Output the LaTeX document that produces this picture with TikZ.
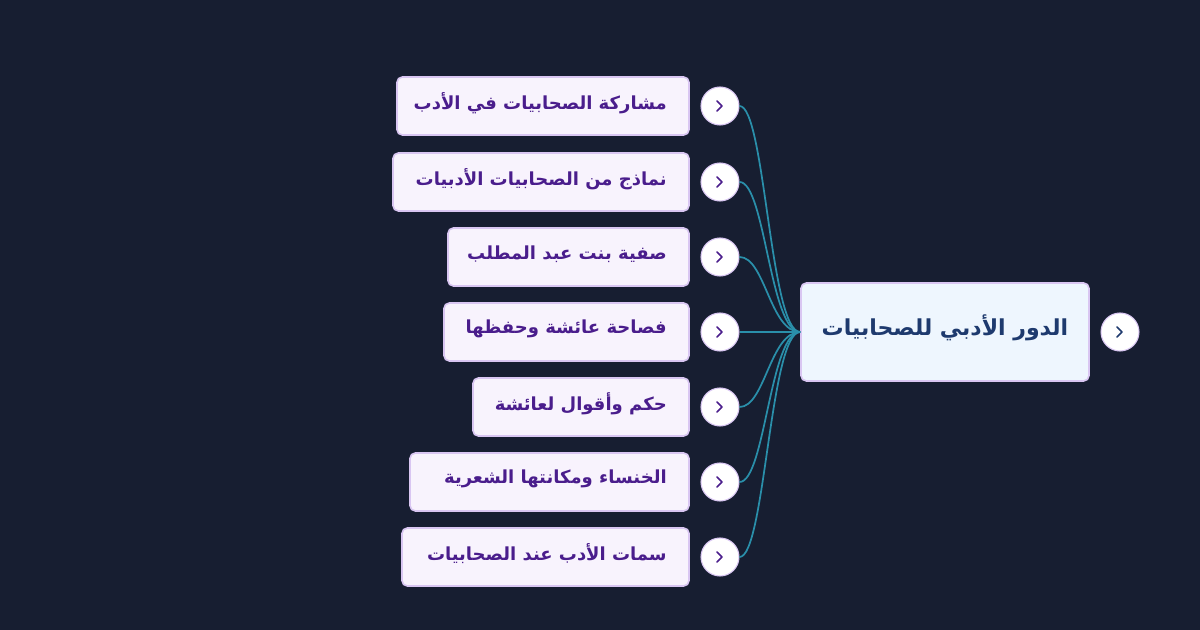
\documentclass[tikz,border=0pt]{standalone}
\usepackage{fontspec}
\TeXXeTstate=1
\newfontfamily\arabicfont[Script=Arabic]{DejaVu Sans}
\definecolor{bg}{HTML}{171E31}
\definecolor{kid}{HTML}{F8F3FD}
\definecolor{kidb}{HTML}{D9C6F2}
\definecolor{kidt}{HTML}{4A1D8C}
\definecolor{rootf}{HTML}{EEF6FE}
\definecolor{roott}{HTML}{1E3A6E}
\definecolor{link}{HTML}{2A8FAA}
\definecolor{chev}{HTML}{4A1D8C}
\tikzset{
 kidbox/.style={draw=kidb,line width=1.2pt,fill=kid,rounded corners=4pt,inner sep=0pt},
 rootbox/.style={draw=kidb,line width=1.2pt,fill=rootf,rounded corners=4pt,inner sep=0pt},
 knob/.style={circle,draw=kidb,line width=0.8pt,fill=white,minimum size=28.5pt,inner sep=0pt},
 conn/.style={draw=link,line width=1.3pt},
 kidtext/.style={text=kidt,inner sep=0pt,font=\arabicfont\bfseries\fontsize{13.5}{16}\selectfont,anchor=east},
}
\begin{document}
\begin{tikzpicture}[x=0.75pt,y=-0.75pt]
\fill[bg] (0,0) rectangle (1200,630);
\path[use as bounding box] (0,0) rectangle (1200,630);
\node[rootbox,minimum width=216pt,minimum height=73.5pt] (root) at (945,332) {};
\node[text=roott,font=\arabicfont\bfseries\fontsize{16.5}{20}\selectfont] (roottext) at (945,328) {\beginR الدور الأدبي للصحابيات\endR};
\node[knob] (rk) at (1120,332) {};
\draw[roott,line width=1.1pt,line cap=round,line join=round] (1117,327)--(1122,332)--(1117,337);
\foreach \i/\l/\cy/\t in {1/397/106/{مشاركة الصحابيات في الأدب},2/393/182/{نماذج من الصحابيات الأدبيات},3/448/257/{صفية بنت عبد المطلب},4/444/332/{فصاحة عائشة وحفظها},5/473/407/{حكم وأقوال لعائشة},6/410/482/{الخنساء ومكانتها الشعرية},7/402/557/{سمات الأدب عند الصحابيات}}{
 \pgfmathsetmacro{\w}{(689-\l)*0.75}
 \node[kidbox,minimum width=\w pt,minimum height=43.5pt] (k\i) at ({(689+\l)/2},\cy) {};
 \node[kidtext] (t\i) at (667,\cy-3) {\beginR \t\endR};
 \node[knob] (c\i) at (720,\cy) {};
 \draw[chev,line width=1.1pt,line cap=round,line join=round] (717,\cy-5)--(722,\cy)--(717,\cy+5);
 \draw[conn] (c\i.east) .. controls (765,\cy) and (770,332) .. (root.west);
}
\end{tikzpicture}
\end{document}
